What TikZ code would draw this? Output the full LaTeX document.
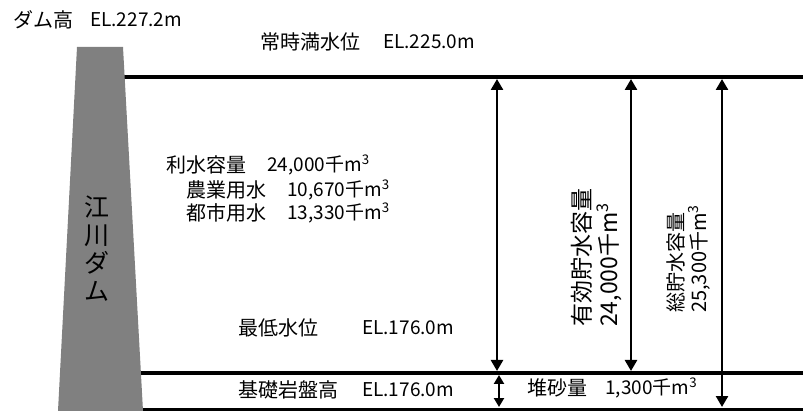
\documentclass[tikz,border=0pt]{standalone}
\usepackage{fontspec}
\setmainfont{Noto Sans CJK JP}
\usetikzlibrary{arrows.meta}
\definecolor{damgray}{HTML}{808080}
\begin{document}
\begin{tikzpicture}[x=1pt,y=-1pt,
  txt/.style={anchor=west,inner sep=0pt,font=\fontsize{20}{23}\selectfont},
  valtxt/.style={anchor=west,inner sep=0pt,font=\fontsize{19}{22}\selectfont},
  vtxt/.style={anchor=west,inner sep=0pt,rotate=90,align=left},
  levelline/.style={line width=4pt},
  dim/.style={line width=2.5pt,{Triangle[width=12pt,length=11pt]}-{Triangle[width=12pt,length=11pt]}},
  smalldim/.style={line width=2.5pt,{Triangle[width=10pt,length=9pt]}-{Triangle[width=10pt,length=9pt]}}]
\useasboundingbox (0,0) rectangle (803,411);
% water levels
\coordinate (topL) at (120,77);  \coordinate (topR) at (803,77);
\coordinate (midL) at (138,373); \coordinate (midR) at (803,373);
\coordinate (botL) at (140,409); \coordinate (botR) at (803,409);
\draw[levelline] (topL) -- (topR);
\draw[line width=3.5pt] (midL) -- (midR);
\draw[line width=3pt] (botL) -- (botR);
% dam body
\fill[damgray] (77,47) -- (123,47) -- (143,411) -- (58,411) -- cycle;
\node[inner sep=0pt,align=center,font=\fontsize{25}{28}\selectfont] (damname) at (97,249) {江\\川\\ダ\\ム};
% dimension arrows
\coordinate (a1t) at (497,79);  \coordinate (a1b) at (497,371);
\coordinate (a2t) at (631,79);  \coordinate (a2b) at (631,371);
\coordinate (a3t) at (722,79);  \coordinate (a3b) at (722,407);
\coordinate (a4t) at (499,375); \coordinate (a4b) at (499,407);
\draw[dim] (a1t) -- (a1b);
\draw[dim] (a2t) -- (a2b);
\draw[dim] (a3t) -- (a3b);
\draw[smalldim] (a4t) -- (a4b);
% labels
\node[txt] (damh) at (13,20) {ダム高};
\node[valtxt] (damhv) at (90,20) {EL.227.2m};
\node[txt] (nwl) at (260,42) {常時満水位};
\node[valtxt] (nwlv) at (383,42) {EL.225.0m};
\node[txt] (use) at (166,165) {利水容量};
\node[valtxt] (usev) at (267,165) {24,000千m\textsuperscript{3}};
\node[txt] (agr) at (186,190) {農業用水};
\node[valtxt] (agrv) at (287,190) {10,670千m\textsuperscript{3}};
\node[txt] (city) at (186,213) {都市用水};
\node[valtxt] (cityv) at (287,213) {13,330千m\textsuperscript{3}};
\node[txt] (lwl) at (238,328) {最低水位};
\node[valtxt] (lwlv) at (362,328) {EL.176.0m};
\node[txt] (rock) at (238,390) {基礎岩盤高};
\node[valtxt] (rockv) at (362,390) {EL.176.0m};
\node[txt] (sed) at (527,388) {堆砂量};
\node[valtxt] (sedv) at (605,388) {1,300千m\textsuperscript{3}};
\node[vtxt,font=\fontsize{23}{27}\selectfont] (eff) at (597,327) {有効貯水容量\\24,000千m\textsuperscript{3}};
\node[vtxt,font=\fontsize{20}{23}\selectfont] (tot) at (688,313) {総貯水容量\\25,300千m\textsuperscript{3}};
\end{tikzpicture}
\end{document}
